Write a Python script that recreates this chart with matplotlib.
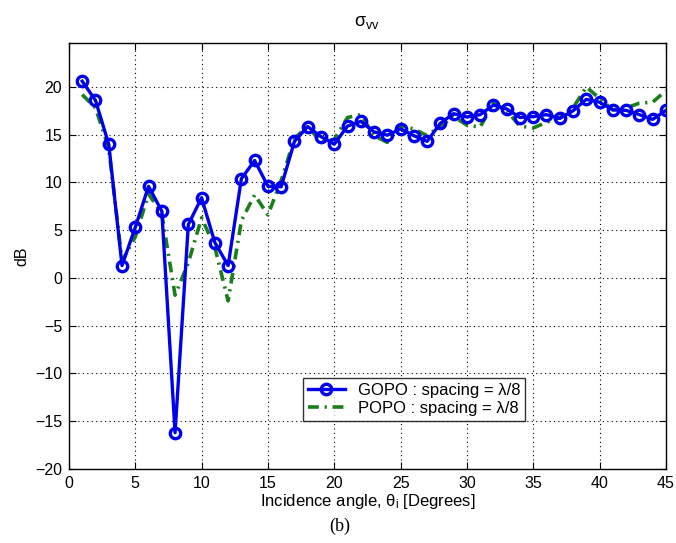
import matplotlib
matplotlib.use("Agg")
import matplotlib.pyplot as plt
import numpy as np

angles = list(range(1, 46))
gopo = [20.6, 18.6, 14.0, 1.3, 5.3, 9.6, 7.0, -16.2, 5.6, 8.4,
        3.7, 1.3, 10.4, 12.3, 9.6, 9.55, 14.3, 15.85, 14.8, 14.0,
        15.9, 16.4, 15.3, 14.95, 15.6, 14.9, 14.3, 16.2, 17.2, 16.85,
        17.1, 18.1, 17.7, 16.8, 16.9, 17.1, 16.7, 17.5, 18.7, 18.4,
        17.6, 17.55, 17.1, 16.6, 17.55]
popo = [19.2, 17.8, 13.6, 1.8, 4.3, 8.8, 6.7, -1.8, 1.6, 6.3,
        3.2, -2.4, 6.0, 8.7, 6.6, 10.2, 14.6, 15.9, 14.2, 14.5,
        16.8, 17.1, 14.9, 14.2, 15.9, 15.6, 14.9, 15.9, 16.9, 16.0,
        15.8, 18.3, 17.5, 15.9, 15.7, 16.3, 16.8, 17.8, 20.0, 18.8,
        17.6, 17.8, 18.3, 18.4, 19.6]
xticks = list(range(0, 46, 5))
yticks = list(range(-20, 21, 5))
labels = ["GOPO : spacing = λ/8", "POPO : spacing = λ/8"]

plt.rcParams['font.family'] = ['Liberation Sans', 'DejaVu Sans']

fig = plt.figure(figsize=(6.76, 5.43), dpi=100)
ax = fig.add_axes([0.102, 0.1363, 0.883, 0.7845])

l2, = ax.plot(angles, popo, linestyle=(0, (3, 1.6, 0.6, 1.6)), color='#1a7f1a',
              linewidth=2.6, zorder=2)
l1, = ax.plot(angles, gopo, linestyle='-', color='#0000ee', linewidth=2.4,
              marker='o', markersize=7.5, markerfacecolor='none',
              markeredgewidth=2.4, zorder=3)

ax.set_xlim(0, 45)
ax.set_ylim(-20, 24.6)
ax.set_xticks(xticks)
ax.set_yticks(yticks)
ax.tick_params(direction='in', top=True, right=True, labelsize=11.5, length=5, pad=5)
ax.grid(True, linestyle=(0, (1, 3)), color='black', linewidth=0.8)
for s in ax.spines.values():
    s.set_linewidth(1.0)

ax.set_title(r'$\mathregular{\sigma_{vv}}$', fontsize=13, pad=12)
ax.set_ylabel('dB', fontsize=11.5, labelpad=4)
ax.set_xlabel(r'Incidence angle, $\mathregular{\theta_i}$ [Degrees]', fontsize=12, labelpad=1)

leg = ax.legend([l1, l2], labels, loc='upper left', bbox_to_anchor=(0.392, 0.213),
                borderaxespad=0, fontsize=12, frameon=True, fancybox=False,
                edgecolor='black', handlelength=2.2, borderpad=0.3, labelspacing=0.15)
leg.get_frame().set_linewidth(1.0)

fig.text(0.503, 0.022, '(b)', fontsize=13, family='Liberation Serif', ha='center')

fig.savefig('out.png', dpi=100)
